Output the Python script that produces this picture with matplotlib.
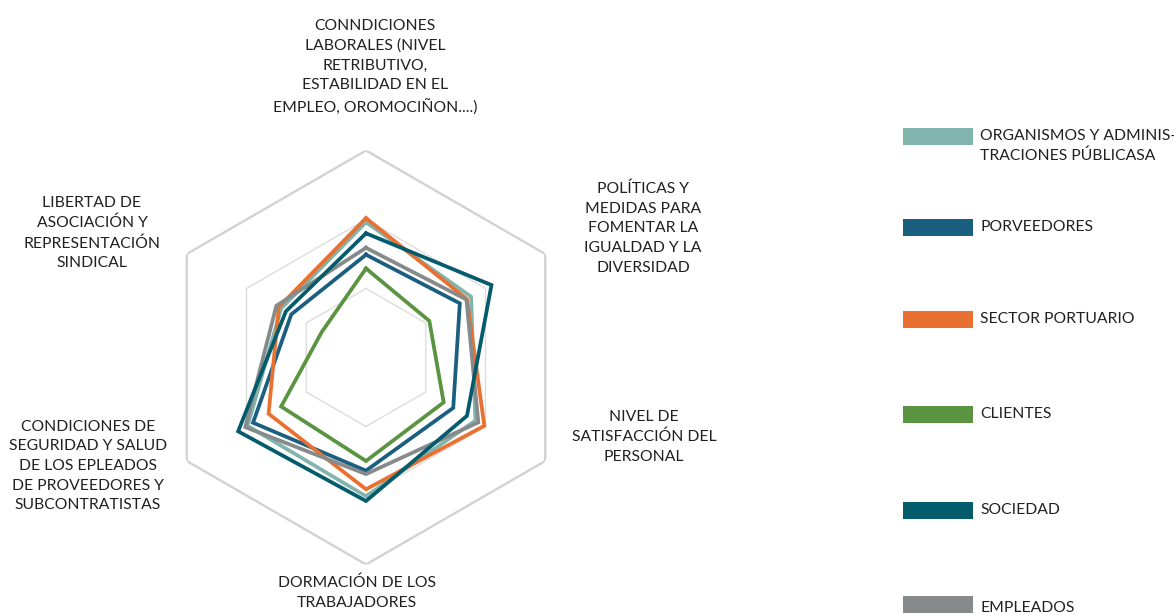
import numpy as np
import matplotlib
matplotlib.use("Agg")
import matplotlib.pyplot as plt
from matplotlib.patches import Rectangle

plt.rcParams['font.family'] = ['Lato', 'DejaVu Sans']

categories = [
    "CONNDICIONES\nLABORALES (NIVEL\nRETRIBUTIVO,\nESTABILIDAD EN EL\nEMPLEO, OROMOCIÑON....)",
    "POLÍTICAS Y\nMEDIDAS PARA\nFOMENTAR LA\nIGUALDAD Y LA\nDIVERSIDAD",
    "NIVEL DE\nSATISFACCIÓN DEL\nPERSONAL",
    "DORMACIÓN DE LOS\nTRABAJADORES",
    "CONDICIONES DE\nSEGURIDAD Y SALUD\nDE LOS EPLEADOS\nDE PROVEEDORES Y\nSUBCONTRATISTAS",
    "LIBERTAD DE\nASOCIACIÓN Y\nREPRESENTACIÓN\nSINDICAL",
]

series_names = [
    "ORGANISMOS Y ADMINIS-\nTRACIONES PÚBLICASA",
    "PORVEEDORES",
    "SECTOR PORTUARIO",
    "CLIENTES",
    "SOCIEDAD",
    "EMPLEADOS",
]

organismos = [1.96, 1.76, 1.83, 2.01, 1.98, 1.42]
porveedores = [1.49, 1.57, 1.46, 1.64, 1.89, 1.25]
sector_portuario = [2.02, 1.69, 1.98, 1.91, 1.63, 1.46]
clientes = [1.29, 1.06, 1.30, 1.50, 1.42, 0.74]
sociedad = [1.80, 2.10, 1.69, 2.08, 2.14, 1.34]
empleados = [1.59, 1.68, 1.88, 1.69, 2.02, 1.50]

grid_levels = [1, 2, 3]
r_max = 3

series_values = [organismos, porveedores, sector_portuario, clientes, sociedad, empleados]
colors = ["#82b4ae", "#1a5e80", "#e87132", "#5a9440", "#045b6c", "#878a8a"]
draw_order = [0, 1, 2, 3, 5, 4]

W, H = 1174, 615
fig = plt.figure(figsize=(W / 100, H / 100), dpi=100)

cx, cy, R = 366, 357.5, 207
ax = fig.add_axes([(cx - R) / W, (H - cy - R) / H, 2 * R / W, 2 * R / H], polar=True)
ax.set_theta_offset(np.pi / 2)
ax.set_theta_direction(-1)
ax.set_ylim(0, r_max)
ax.grid(False)
ax.spines['polar'].set_visible(False)
ax.set_xticks([])
ax.set_yticks([])
ax.patch.set_alpha(0)

n = len(categories)
angles = np.linspace(0, 2 * np.pi, n, endpoint=False)
closed = np.concatenate([angles, angles[:1]])

for lvl in grid_levels:
    outer = lvl == grid_levels[-1]
    ax.plot(closed, [lvl] * (n + 1), color="#d2d2d2" if outer else "#dadada",
            lw=1.7 if outer else 0.9, zorder=1)

for i in draw_order:
    vals = list(series_values[i]) + [series_values[i][0]]
    ax.plot(closed, vals, color=colors[i], lw=2.7, zorder=3, solid_joinstyle='miter')

TXT = "#231f20"
FS = 11.3
LS = 1.52

# category labels (pixel positions of label centers)
label_pos = [(375, 67), (643, 228), (644, 437), (357, 593), (88, 466), (92, 233)]
for text, (px, py) in zip(categories, label_pos):
    fig.text(px / W, 1 - py / H, text, ha='center', va='center', fontsize=FS,
             color=TXT, linespacing=LS)

# legend
ys = [136, 227, 319, 414, 510, 604]
text_offset = [10, 0, 0, 0, 0, 4]
for name, col, y, off in zip(series_names, colors, ys, text_offset):
    fig.patches.append(Rectangle((903 / W, 1 - (y + 8.5) / H), 70 / W, 17 / H,
                                 transform=fig.transFigure, color=col, lw=0))
    fig.text(980 / W, 1 - (y + off) / H, name, ha='left', va='center',
             fontsize=FS, color=TXT, linespacing=1.5)

fig.savefig("out.png", dpi=100)
